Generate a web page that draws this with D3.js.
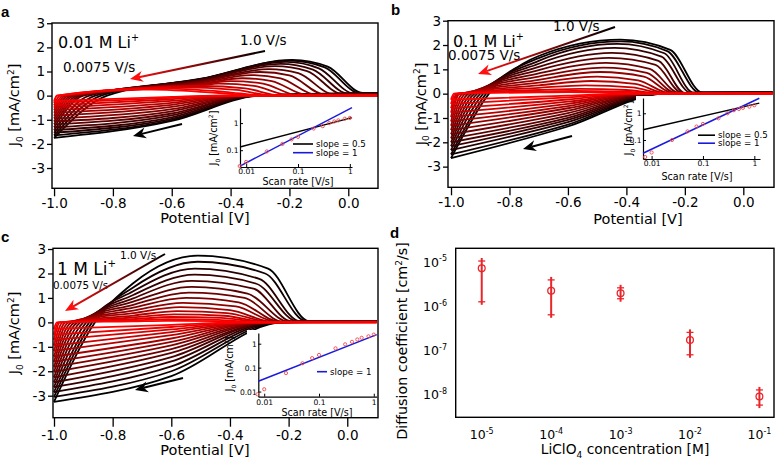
<!DOCTYPE html>
<html lang="en">
<head>
<meta charset="UTF-8">
<title>Scan-rate CVs and Li diffusion coefficient</title>
<script src="https://d3js.org/d3.v7.min.js"></script>
<style>
  body { margin: 0; background: #fff; }
  svg { display: block; font-family: "DejaVu Sans", Verdana, sans-serif; }
</style>
</head>
<body>
<div id="fig"></div>
<script>
// ---- values ----
// CV series, slowest scan (red) first, fastest (black) last
const scanRates = [0.0075, 0.01, 0.025, 0.05, 0.075, 0.1, 0.2, 0.3, 0.4, 0.5, 0.6, 0.7, 0.8, 0.9, 1.0];

// one row per scan rate:
// [J at -1.0 V, V where anodic sweep crosses 0, J of anodic sweep at vUp, V peak, J peak,
//  V shoulder, J shoulder, V where anodic current is back to baseline, J at +0.1 V,
//  J of cathodic sweep at -0.6 V, V where cathodic current sets in]
const cvA = [
  [-0.22, -0.99, 0.22, -0.70, 0.26, -0.45, 0.12, -0.30, 0.00, -0.05, -0.45],
  [-0.30, -0.99, 0.26, -0.65, 0.30, -0.42, 0.16, -0.28, 0.00, -0.09, -0.43],
  [-0.40, -0.98, 0.30, -0.58, 0.34, -0.38, 0.24, -0.26, 0.01, -0.15, -0.41],
  [-0.50, -0.97, 0.36, -0.50, 0.40, -0.35, 0.30, -0.23, 0.01, -0.22, -0.39],
  [-0.60, -0.96, 0.42, -0.44, 0.50, -0.32, 0.40, -0.20, 0.02, -0.30, -0.38],
  [-0.71, -0.95, 0.46, -0.40, 0.60, -0.29, 0.50, -0.17, 0.02, -0.38, -0.37],
  [-0.83, -0.94, 0.50, -0.36, 0.72, -0.26, 0.60, -0.14, 0.03, -0.47, -0.36],
  [-0.95, -0.93, 0.54, -0.33, 0.85, -0.23, 0.72, -0.11, 0.04, -0.56, -0.35],
  [-1.07, -0.92, 0.58, -0.30, 0.98, -0.20, 0.84, -0.08, 0.05, -0.65, -0.34],
  [-1.19, -0.91, 0.61, -0.27, 1.10, -0.17, 0.93, -0.05, 0.06, -0.74, -0.33],
  [-1.31, -0.90, 0.64, -0.25, 1.22, -0.14, 1.02, -0.02, 0.07, -0.82, -0.33],
  [-1.43, -0.88, 0.66, -0.23, 1.32, -0.12, 1.08, 0.00, 0.08, -0.90, -0.32],
  [-1.54, -0.86, 0.68, -0.21, 1.40, -0.10, 1.13, 0.02, 0.09, -0.96, -0.31],
  [-1.65, -0.84, 0.69, -0.20, 1.45, -0.08, 1.17, 0.04, 0.10, -1.01, -0.31],
  [-1.75, -0.82, 0.70, -0.19, 1.48, -0.07, 1.20, 0.05, 0.11, -1.05, -0.30]
];
const cvB = [
  [-0.25, -0.99, 0.05, -0.60, 0.06, -0.42, 0.04, -0.30, 0.00, -0.08, -0.40],
  [-0.42, -0.985, 0.09, -0.58, 0.11, -0.41, 0.08, -0.29, 0.00, -0.15, -0.39],
  [-0.60, -0.98, 0.15, -0.56, 0.20, -0.40, 0.15, -0.28, 0.01, -0.24, -0.38],
  [-0.78, -0.975, 0.24, -0.54, 0.34, -0.38, 0.26, -0.27, 0.01, -0.33, -0.37],
  [-0.96, -0.97, 0.34, -0.52, 0.52, -0.37, 0.40, -0.26, 0.01, -0.42, -0.36],
  [-1.14, -0.96, 0.45, -0.50, 0.70, -0.36, 0.55, -0.25, 0.02, -0.51, -0.35],
  [-1.32, -0.95, 0.57, -0.49, 0.89, -0.34, 0.70, -0.24, 0.02, -0.60, -0.34],
  [-1.50, -0.94, 0.70, -0.48, 1.07, -0.33, 0.85, -0.23, 0.02, -0.70, -0.33],
  [-1.67, -0.93, 0.83, -0.47, 1.27, -0.32, 1.02, -0.22, 0.03, -0.80, -0.32],
  [-1.84, -0.92, 0.97, -0.46, 1.47, -0.30, 1.18, -0.21, 0.03, -0.90, -0.31],
  [-2.00, -0.91, 1.10, -0.45, 1.68, -0.29, 1.35, -0.20, 0.03, -1.00, -0.30],
  [-2.16, -0.90, 1.23, -0.44, 1.88, -0.28, 1.52, -0.18, 0.04, -1.08, -0.29],
  [-2.32, -0.89, 1.35, -0.43, 2.05, -0.27, 1.66, -0.17, 0.04, -1.17, -0.28],
  [-2.50, -0.88, 1.46, -0.42, 2.15, -0.26, 1.75, -0.15, 0.05, -1.27, -0.28],
  [-2.65, -0.87, 1.55, -0.42, 2.22, -0.25, 1.80, -0.14, 0.05, -1.35, -0.27]
];
const cvC = [
  [-0.27, -0.99, 0.04, -0.62, 0.06, -0.45, 0.05, -0.30, 0.00, -0.10, -0.35],
  [-0.50, -0.985, 0.08, -0.61, 0.13, -0.44, 0.10, -0.29, 0.00, -0.19, -0.34],
  [-0.72, -0.98, 0.13, -0.60, 0.22, -0.43, 0.18, -0.28, 0.01, -0.29, -0.33],
  [-0.95, -0.97, 0.20, -0.59, 0.33, -0.42, 0.27, -0.27, 0.01, -0.40, -0.32],
  [-1.17, -0.96, 0.28, -0.58, 0.46, -0.41, 0.38, -0.26, 0.02, -0.52, -0.31],
  [-1.40, -0.95, 0.38, -0.57, 0.62, -0.40, 0.50, -0.25, 0.02, -0.66, -0.30],
  [-1.61, -0.94, 0.48, -0.56, 0.80, -0.38, 0.65, -0.24, 0.02, -0.80, -0.29],
  [-1.82, -0.93, 0.60, -0.55, 1.00, -0.37, 0.82, -0.23, 0.03, -0.94, -0.28],
  [-2.02, -0.92, 0.72, -0.54, 1.22, -0.35, 1.00, -0.22, 0.03, -1.09, -0.27],
  [-2.25, -0.91, 0.85, -0.53, 1.45, -0.34, 1.18, -0.20, 0.03, -1.25, -0.26],
  [-2.45, -0.90, 0.98, -0.53, 1.70, -0.32, 1.38, -0.19, 0.04, -1.42, -0.26],
  [-2.65, -0.89, 1.12, -0.52, 1.95, -0.31, 1.58, -0.17, 0.04, -1.60, -0.25],
  [-2.85, -0.88, 1.27, -0.52, 2.20, -0.30, 1.78, -0.16, 0.04, -1.80, -0.24],
  [-3.05, -0.87, 1.43, -0.51, 2.48, -0.28, 2.00, -0.14, 0.05, -2.00, -0.23],
  [-3.25, -0.86, 1.60, -0.51, 2.73, -0.27, 2.20, -0.13, 0.05, -2.20, -0.22]
];
const vUpA = -0.5, vUpB = -0.7, vUpC = -0.73;
const vTicks = [-1.0, -0.8, -0.6, -0.4, -0.2, 0.0];
const jTicks = [-3, -2, -1, 0, 1, 2, 3];

// insets: peak current vs scan rate
const insetRates = [0.0075, 0.01, 0.025, 0.05, 0.075, 0.1, 0.2, 0.3, 0.4, 0.5, 0.6, 0.8, 1.0];
const peakA = [0.026, 0.037, 0.09, 0.17, 0.25, 0.31, 0.63, 0.77, 1.0, 1.15, 1.26, 1.45, 1.55];
const peakB = [0.023, 0.034, 0.1, 0.21, 0.32, 0.4, 0.65, 1.0, 1.3, 1.45, 1.6, 1.77, 2.0];
const peakC = [0.0077, 0.0125, 0.059, 0.153, 0.25, 0.34, 0.64, 0.94, 1.2, 1.5, 1.76, 2.04, 2.4];
// fit lines: scan-rate ends and J at those ends
const fitXA = [0.0076, 1.1], fitHalfA = [0.132, 1.59], fitOneA = [0.026, 3.7];
const fitXB = [0.0068, 1.25], fitHalfB = [0.24, 2.4], fitOneB = [0.032, 3.65];
const fitXC = [0.0078, 1.13], fitOneC = [0.027, 2.4];

// panel d
const concM = [1e-5, 1e-4, 1e-3, 1e-2, 1e-1];
const diffD = [7.3e-6, 2.28e-6, 2.0e-6, 1.75e-7, 9.2e-9];
const diffHi = [1.07e-5, 4.0e-6, 2.65e-6, 2.6e-7, 1.3e-8];
const diffLo = [1.28e-6, 6.5e-7, 1.5e-6, 8.1e-8, 5.9e-9];
const expTicksD = [-8, -7, -6, -5];
const expTicksC = [-5, -4, -3, -2, -1];

// ---- drawing ----
const W = 775, H = 464;
const svg = d3.select('#fig').append('svg').attr('width', W).attr('height', H);
const defs = svg.append('defs');
const cvColor = d3.scaleLinear().domain([0, scanRates.length - 1]).range(['#ff0000', '#000000']);
const red = '#e8262b';

// landmarks -> two monotone branches
function branches(r, vUp) {
  const [jSw, vZero, jUp, vPk, jPk, vSh, jSh, vEnd, jTail, jDown, vKnee] = r;
  const up = [[-1.0, jSw], [vZero, 0]];
  if (vUp > vZero + 0.03 && vUp < vPk - 0.04) up.push([vUp, jUp]);
  up.push([vPk, jPk], [vSh, jSh], [vEnd, jTail], [0.1, jTail]);
  const down = [[-1.0, jSw]];
  if (vKnee > -0.56) down.push([-0.6, jDown]);
  down.push([vKnee, 0], [0.1, jTail]);
  return [up, down];
}

function superText(sel, parts) {
  // parts: [text, shift(px, + = up), size]
  let prev = 0;
  parts.forEach(([t, shift, size]) => {
    sel.append('tspan').attr('dy', prev - shift).attr('font-size', size).text(t);
    prev = shift;
  });
}

function drawCV(p) {
  const [x0, y0, x1, y1] = p.box;
  const x = d3.scaleLinear().domain(p.vDom).range([x0, x1]);
  const y = d3.scaleLinear().domain(p.jDom).range([y1, y0]);
  const g = svg.append('g');

  defs.append('clipPath').attr('id', 'clip' + p.key)
    .append('rect').attr('x', x0).attr('y', y0).attr('width', x1 - x0).attr('height', y1 - y0);

  const line = d3.line().x(d => x(d[0])).y(d => y(d[1])).curve(d3.curveMonotoneX);
  const cg = g.append('g').attr('clip-path', `url(#clip${p.key})`);
  for (let i = p.rows.length - 1; i >= 0; i--) {
    branches(p.rows[i], p.vUp).forEach(b => {
      cg.append('path').attr('d', line(b)).attr('fill', 'none')
        .attr('stroke', cvColor(i)).attr('stroke-width', 1.8);
    });
  }

  // axes
  const xa = g.append('g').attr('transform', `translate(0,${y1})`)
    .call(d3.axisBottom(x).tickValues(vTicks).tickFormat(d => d.toFixed(1))
      .tickSize(p.xTick).tickSizeOuter(0).tickPadding(p.xPad));
  const ya = g.append('g').attr('transform', `translate(${x0},0)`)
    .call(d3.axisLeft(y).tickValues(jTicks).tickFormat(d => String(d))
      .tickSize(5).tickSizeOuter(0).tickPadding(2));
  [xa, ya].forEach(a => {
    a.select('.domain').remove();
    a.selectAll('line').attr('stroke', '#000').attr('stroke-width', 1.3);
    a.selectAll('text').attr('font-size', 13.5).attr('fill', '#000').attr('font-family', '"DejaVu Sans", Verdana, sans-serif');
  });

  g.append('text').attr('x', p.xTitle[0]).attr('y', p.xTitle[1]).attr('text-anchor', 'middle')
    .attr('font-size', 14.5).text('Potential [V]');
  const yt = g.append('text').attr('text-anchor', 'middle').attr('font-size', 14.5)
    .attr('transform', `translate(${p.yTitle[0]},${p.yTitle[1]}) rotate(-90)`);
  superText(yt, [['J', 0, 14.5], ['0', -3.5, 9], [' [mA/cm', 0, 14.5], ['2', 5.5, 9], [']', 0, 14.5]]);
  return {x, y, g};
}

function arrow(a, grad) {
  const [xt, yt, xh, yh] = a;
  const ang = Math.atan2(yh - yt, xh - xt);
  const ux = Math.cos(ang), uy = Math.sin(ang), nx = -uy, ny = ux;
  const L = 13, hw = 5.5, notch = 9;
  const bx = xh - ux * L, by = yh - uy * L;
  let stroke = '#000', head = '#000';
  if (grad) {
    const id = 'grad' + grad;
    const lg = defs.append('linearGradient').attr('id', id).attr('gradientUnits', 'userSpaceOnUse')
      .attr('x1', xt).attr('y1', yt).attr('x2', xh).attr('y2', yh);
    lg.append('stop').attr('offset', 0).attr('stop-color', '#000');
    lg.append('stop').attr('offset', 1).attr('stop-color', '#ff1010');
    stroke = `url(#${id})`; head = '#ff1010';
  }
  svg.append('line').attr('x1', xt).attr('y1', yt)
    .attr('x2', xh - ux * notch).attr('y2', yh - uy * notch)
    .attr('stroke', stroke).attr('stroke-width', 2);
  const pts = [[xh, yh], [bx + nx * hw, by + ny * hw], [xh - ux * notch, yh - uy * notch], [bx - nx * hw, by - ny * hw]];
  svg.append('path').attr('d', 'M' + pts.join('L') + 'Z').attr('fill', head);
}

function drawInset(o) {
  const g = svg.append('g');
  g.append('rect').attr('x', o.bg[0]).attr('y', o.bg[1])
    .attr('width', o.bg[2] - o.bg[0]).attr('height', o.bg[3] - o.bg[1]).attr('fill', '#fff');
  const [ax0, ay0, ax1, ay1] = o.ax;
  const x = d3.scaleLog().domain(o.xDom).range([ax0, ax1]);
  const y = d3.scaleLog().domain(o.yDom).range([ay1, ay0]);

  const fmt = d3.format('~g');
  const xa = g.append('g').attr('transform', `translate(0,${ay1})`)
    .call(d3.axisBottom(x).tickValues([0.01, 0.1, 1]).tickFormat(fmt).tickSize(-3).tickSizeOuter(0).tickPadding(o.xPad));
  const ya = g.append('g').attr('transform', `translate(${ax0},0)`)
    .call(d3.axisLeft(y).tickValues(o.yTicks).tickFormat(fmt).tickSize(-3).tickSizeOuter(0).tickPadding(1.5));
  [xa, ya].forEach(a => {
    a.select('.domain').attr('stroke', '#000').attr('stroke-width', 1.2);
    a.selectAll('line').attr('stroke', '#000');
    a.selectAll('text').attr('font-size', 7.6).attr('fill', '#000').attr('font-family', '"DejaVu Sans", Verdana, sans-serif');
  });

  const fl = d3.line().x(d => x(d[0])).y(d => y(d[1]));
  o.fits.forEach(f => {
    g.append('path').attr('d', fl(f.xs.map((v, i) => [v, f.js[i]])))
      .attr('stroke', f.color).attr('stroke-width', 1.5).attr('fill', 'none');
  });
  g.selectAll('circle.pt').data(insetRates).join('circle').attr('class', 'pt')
    .attr('cx', d => x(d)).attr('cy', (d, i) => y(o.peaks[i])).attr('r', 1.6)
    .attr('fill', 'none').attr('stroke', '#f04848').attr('stroke-width', 0.9);

  o.legend.forEach(l => {
    g.append('line').attr('x1', l.x).attr('x2', l.x + l.w).attr('y1', l.y).attr('y2', l.y)
      .attr('stroke', l.color).attr('stroke-width', 1.6);
    g.append('text').attr('x', l.x + l.w + 3).attr('y', l.y + 3).attr('font-size', 8.7).text(l.text);
  });

  g.append('text').attr('x', o.xTitle[0]).attr('y', o.xTitle[1]).attr('text-anchor', 'middle')
    .attr('font-size', 9.6).text('Scan rate [V/s]');
  const yt = g.append('text').attr('text-anchor', 'middle')
    .attr('transform', `translate(${o.yTitle[0]},${o.yTitle[1]}) rotate(-90)`);
  superText(yt, [['J', 0, 9.6], ['0', -2.5, 6], [' [mA/cm', 0, 9.6], ['2', 3.8, 6], [']', 0, 9.6]]);
}

function label(x, y, txt, size, sup) {
  const t = svg.append('text').attr('x', x).attr('y', y).attr('font-size', size).text(txt);
  if (sup) t.append('tspan').attr('dy', -size * 0.42).attr('font-size', size * 0.6).text(sup);
}

// ---- panels a, b, c ----
const boxA = [52, 23, 378, 188.3], boxB = [448, 20.7, 774, 187.3], boxC = [53, 248.3, 378, 417.7];
drawCV({key: 'a', rows: cvA, vUp: vUpA, box: boxA,
  vDom: [-1.007, 0.101], jDom: [-3.84, 3.01], xTick: 8, xPad: 2, xTitle: [205, 223], yTitle: [19, 105]});
drawCV({key: 'b', rows: cvB, vUp: vUpB, box: boxB,
  vDom: [-1.0103, 0.105], jDom: [-3.85, 3.0], xTick: 8, xPad: 2, xTitle: [638, 224], yTitle: [425.5, 104]});
drawCV({key: 'c', rows: cvC, vUp: vUpC, box: boxC,
  vDom: [-1.0034, 0.1048], jDom: [-3.9, 3.03], xTick: 9, xPad: 4, xTitle: [205, 455], yTitle: [19, 333]});

drawInset({bg: [233, 105, 377, 187], ax: [240, 108, 352, 167], xDom: [0.0076, 1.1], yDom: [0.024, 3.6],
  yTicks: [0.1, 1], xPad: 2, peaks: peakA,
  fits: [{xs: fitXA, js: fitHalfA, color: '#000'}, {xs: fitXA, js: fitOneA, color: '#1a1adc'}],
  legend: [{x: 293, y: 144, w: 20, color: '#000', text: 'slope = 0.5'}, {x: 293, y: 152.7, w: 20, color: '#1a1adc', text: 'slope = 1'}],
  xTitle: [298, 184.5], yTitle: [217, 138]});
drawInset({bg: [636, 96, 774, 186], ax: [643, 98, 760, 159], xDom: [0.0068, 1.29], yDom: [0.0194, 3.74],
  yTicks: [0.1, 1], xPad: 2, peaks: peakB,
  fits: [{xs: fitXB, js: fitHalfB, color: '#000'}, {xs: fitXB, js: fitOneB, color: '#1a1adc'}],
  legend: [{x: 698, y: 135.2, w: 17, color: '#000', text: 'slope = 0.5'}, {x: 698, y: 143.2, w: 17, color: '#1a1adc', text: 'slope = 1'}],
  xTitle: [697, 179.5], yTitle: [632, 128]});
drawInset({bg: [247, 330, 377, 417], ax: [258.3, 333, 376.7, 396.7], xDom: [0.0078, 1.13], yDom: [0.0061, 2.8],
  yTicks: [0.01, 0.1, 1], xPad: 2.5, peaks: peakC,
  fits: [{xs: fitXC, js: fitOneC, color: '#1a1adc'}],
  legend: [{x: 317, y: 371.7, w: 10, color: '#1a1adc', text: 'slope = 1'}],
  xTitle: [317, 415.5], yTitle: [233, 364]});

// frames on top of the inset backgrounds
[boxA, boxB, boxC].forEach(b => {
  svg.append('rect').attr('x', b[0]).attr('y', b[1]).attr('width', b[2] - b[0]).attr('height', b[3] - b[1])
    .attr('fill', 'none').attr('stroke', '#000').attr('stroke-width', 1.4);
});

// annotations
label(58, 48, '0.01 M Li', 16, '+');
label(240, 44.5, '1.0 V/s', 13.5);
label(63, 72, '0.0075 V/s', 13.5);
arrow([265, 51, 130, 79], 'a');
arrow([182, 124, 133, 136]);

label(453, 46.5, '0.1 M Li', 16, '+');
label(553, 31, '1.0 V/s', 13.5);
label(448, 60, '0.0075 V/s', 13.5);
arrow([615, 27, 478, 74], 'b');
arrow([572, 136, 523, 149]);

label(57, 274.5, '1 M Li', 17, '+');
label(120, 259, '1.0 V/s', 10.5);
label(53, 289, '0.0075 V/s', 10.3);
arrow([165, 254, 65, 311], 'c');
arrow([183, 378, 135, 390]);

// ---- panel d ----
(function () {
  const box = [455.7, 248.3, 774, 417.3];
  const x = d3.scaleLog().domain([Math.pow(10, -5.375), Math.pow(10, -0.79)]).range([box[0], box[2]]);
  const y = d3.scaleLog().domain([Math.pow(10, -8.505), Math.pow(10, -4.683)]).range([box[3], box[1]]);
  const g = svg.append('g');
  g.append('rect').attr('x', box[0]).attr('y', box[1]).attr('width', box[2] - box[0]).attr('height', box[3] - box[1])
    .attr('fill', 'none').attr('stroke', '#000').attr('stroke-width', 1.4);

  expTicksC.forEach(e => {
    const t = g.append('text').attr('x', x(Math.pow(10, e))).attr('y', 439).attr('text-anchor', 'middle').attr('font-size', 12.5);
    t.append('tspan').text('10');
    t.append('tspan').attr('dy', -5.5).attr('font-size', 8).text(String(e));
  });
  expTicksD.forEach(e => {
    const t = g.append('text').attr('x', 447).attr('y', y(Math.pow(10, e)) + 4.5).attr('text-anchor', 'end').attr('font-size', 12.5);
    t.append('tspan').text('10');
    t.append('tspan').attr('dy', -5.5).attr('font-size', 8).text(String(e));
  });

  const bars = g.selectAll('g.bar').data(concM).join('g').attr('class', 'bar');
  bars.append('line').attr('x1', d => x(d)).attr('x2', d => x(d))
    .attr('y1', (d, i) => y(diffHi[i]) - 3).attr('y2', (d, i) => y(diffLo[i]) + 3)
    .attr('stroke', red).attr('stroke-width', 2);
  [diffHi, diffLo].forEach(arr => {
    bars.append('line').attr('x1', d => x(d) - 3.5).attr('x2', d => x(d) + 3.5)
      .attr('y1', (d, i) => y(arr[i])).attr('y2', (d, i) => y(arr[i]))
      .attr('stroke', red).attr('stroke-width', 1.3);
  });
  bars.append('circle').attr('cx', d => x(d)).attr('cy', (d, i) => y(diffD[i])).attr('r', 3.4)
    .attr('fill', 'none').attr('stroke', red).attr('stroke-width', 1.3);

  const xt = g.append('text').attr('x', 625).attr('y', 454).attr('text-anchor', 'middle').attr('font-size', 13.8);
  superText(xt, [['LiClO', 0, 13.8], ['4', -4, 9], [' concentration [M]', 0, 13.8]]);
  const yt = g.append('text').attr('text-anchor', 'middle').attr('font-size', 14.3)
    .attr('transform', 'translate(407,341) rotate(-90)');
  superText(yt, [['Diffusion coefficient [cm', 0, 14.3], ['2', 5.5, 9], ['/s]', 0, 14.3]]);
})();

// panel letters
[['a', 1, 17], ['b', 391, 15], ['c', 1, 242], ['d', 390, 238]].forEach(([t, x, y]) => {
  svg.append('text').attr('x', x).attr('y', y).attr('font-size', 15).attr('font-weight', 'bold')
    .attr('font-family', 'Arial, "Liberation Sans", sans-serif').text(t);
});
</script>
</body>
</html>
